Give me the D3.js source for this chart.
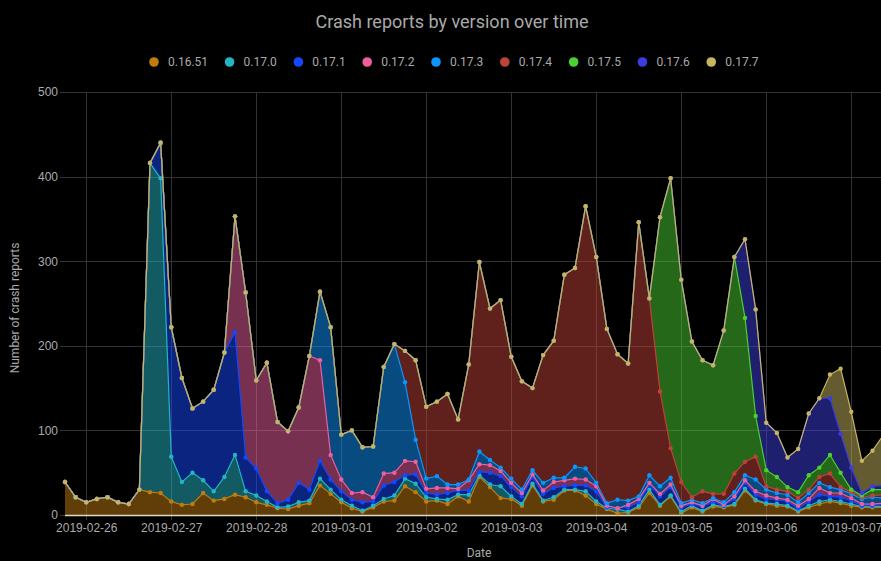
<!DOCTYPE html>
<html>
<head>
  <meta charset="utf-8">
  <title>Crash reports by version over time</title>
  <script src="https://cdn.jsdelivr.net/npm/d3@7"></script>
  <style>
body { margin: 0; background: #000; }
svg { display: block; background: #000; font-family: Roboto, "Helvetica Neue", Arial, sans-serif; }
.grid line { stroke: #333; stroke-width: 1; }
.axis text { fill: #aaa; font-size: 12px; }
.axis path, .axis line { display: none; }
.label { fill: #aaa; font-size: 12px; }
  </style>
</head>
<body>
<svg width="881" height="561"></svg>
<script>

// versions, bottom of the stack first
var versions = ["0.16.51", "0.17.0", "0.17.1", "0.17.2", "0.17.3", "0.17.4", "0.17.5", "0.17.6", "0.17.7"];
var colors = ["#c27c0e", "#23b5c4", "#1447ff", "#ee5fa0", "#0d95ff", "#bf4239", "#4bd033", "#3d3ddf", "#c8b55f"];

// one sample every 3 hours
var startTime = "2019-02-25T18:00:00Z";
var stepHours = 3;

var r_0_16_51 = [39,21,15,19,21,15,13,30, 27,26,16,12,13,26,17,19, 24,21,15,12,8,7,11,14, 35,25,15,8,4,9,16,17,
  34,27,16,17,13,22,16,45, 33,20,19,11,35,16,18,29, 29,23,13,7,2,3,9,26, 11,22,2,9,4,10,9,12, 29,17,13,11,10,4,9,13, 16,14,11,9,9,9];
var r_0_17_0 = [0,0,0,0,0,0,0,0, 389,372,53,27,37,15,11,26, 47,7,8,4,1,3,4,3, 8,5,3,3,1,2,3,6,
  9,10,5,2,5,2,8,2, 3,14,3,2,2,1,3,1, 1,5,3,1,5,1,2,4, 1,1,2,2,1,2,1,1, 2,1,1,2,1,1,2,3, 2,2,2,1,1,1];
var r_0_17_1 = [0,0,0,0,0,0,0,0, 0,42,153,123,76,93,120,147, 145,40,32,12,5,8,23,13, 21,12,10,7,10,5,16,16,
  4,11,5,5,8,5,5,4, 14,12,11,9,8,8,11,4, 5,7,12,1,1,5,4,6, 10,10,5,2,5,4,1,6, 7,6,5,5,5,3,5,8, 4,5,4,1,1,2];
var r_0_17_2 = [0,0,0,0,0,0,0,0, 0,0,0,0,0,0,0,0, 137,195,104,152,96,81,89,158, 119,29,14,8,12,5,14,11,
  17,15,5,8,6,2,12,9, 9,6,5,4,3,4,7,7, 8,7,6,2,0,3,4,2, 3,3,2,2,1,3,1,3, 3,4,4,2,2,3,3,8, 4,5,3,2,2,2];
var r_0_17_3 = [0,0,0,0,0,0,0,0, 0,0,0,0,0,0,0,0, 0,0,0,0,0,0,0,0, 81,151,53,74,53,60,126,152,
  93,26,12,14,4,5,1,15, 6,4,5,4,5,9,5,3, 14,13,4,3,10,5,3,9, 9,8,3,3,3,1,3,5, 6,14,7,6,6,4,7,6, 7,4,5,6,8,6];
var r_0_17_4 = [0,0,0,0,0,0,0,0, 0,0,0,0,0,0,0,0, 0,0,0,0,0,0,0,0, 0,0,0,0,0,0,0,0,
  37,94,85,88,107,77,136,224, 179,198,144,128,97,151,162,240, 235,310,267,206,172,162,324,209, 112,35,25,3,14,5,10,22, 16,27,4,4,4,5,4,7, 16,3,2,2,2,4];
var r_0_17_5 = [0,0,0,0,0,0,0,0, 0,0,0,0,0,0,0,0, 0,0,0,0,0,0,0,0, 0,0,0,0,0,0,0,0,
  0,0,0,0,0,0,0,0, 0,0,0,0,0,0,0,0, 0,0,0,0,0,0,0,0, 206,319,239,184,155,152,193,256, 170,48,19,15,5,7,17,11, 22,17,3,2,7,6];
var r_0_17_6 = [0,0,0,0,0,0,0,0, 0,0,0,0,0,0,0,0, 0,0,0,0,0,0,0,0, 0,0,0,0,0,0,0,0,
  0,0,0,0,0,0,0,0, 0,0,0,0,0,0,0,0, 0,0,0,0,0,0,0,0, 0,0,0,0,0,0,0,0, 93,126,56,52,35,51,73,82, 67,46,26,3,4,5];
var r_0_17_7 = [0,0,0,0,0,0,0,0, 0,0,0,0,0,0,0,0, 0,0,0,0,0,0,0,0, 0,0,0,0,0,0,0,0,
  0,0,0,0,0,0,0,0, 0,0,0,0,0,0,0,0, 0,0,0,0,0,0,0,0, 0,0,0,0,0,0,0,0, 0,0,0,0,0,0,0,0, 28,77,66,38,42,59];

var yTicks = [0, 100, 200, 300, 400, 500];

var series = [r_0_16_51, r_0_17_0, r_0_17_1, r_0_17_2, r_0_17_3, r_0_17_4, r_0_17_5, r_0_17_6, r_0_17_7];

var svg = d3.select("svg"),
    width = +svg.attr("width"),
    plotLeft = 65,
    plotTop = 92,
    plotBottom = 515,
    pxPerStep = 10.625;

var t0 = new Date(startTime);
var times = d3.range(r_0_16_51.length).map(function(i) { return d3.utcHour.offset(t0, i * stepHours); });

var rows = times.map(function(t, i) {
  var row = { time: t };
  versions.forEach(function(v, k) { row[v] = series[k][i]; });
  return row;
});

var x = d3.scaleUtc()
    .domain([times[0], times[times.length - 1]])
    .range([plotLeft, plotLeft + (times.length - 1) * pxPerStep]);

var y = d3.scaleLinear()
    .domain([0, 500])
    .range([plotBottom, plotTop]);

var layers = d3.stack().keys(versions)(rows);

// grid
var grid = svg.append("g").attr("class", "grid");
grid.selectAll(".h").data(yTicks).enter().append("line")
    .attr("x1", plotLeft - 5).attr("x2", width)
    .attr("y1", function(d) { return Math.round(y(d)) + 0.5; })
    .attr("y2", function(d) { return Math.round(y(d)) + 0.5; });
grid.selectAll(".v").data(x.ticks(d3.utcDay.every(1))).enter().append("line")
    .attr("x1", function(d) { return Math.round(x(d)) + 0.5; })
    .attr("x2", function(d) { return Math.round(x(d)) + 0.5; })
    .attr("y1", plotTop).attr("y2", plotBottom + 5);

// axes (labels only)
svg.append("g")
    .attr("class", "axis")
    .attr("transform", "translate(" + (plotLeft - 1) + ",0)")
    .call(d3.axisLeft(y).tickValues(yTicks).tickSize(0).tickPadding(6));

svg.append("g")
    .attr("class", "axis")
    .attr("transform", "translate(0," + plotBottom + ")")
    .call(d3.axisBottom(x).ticks(d3.utcDay.every(1)).tickFormat(d3.utcFormat("%Y-%m-%d")).tickSize(0).tickPadding(8));

var area = d3.area()
    .x(function(d) { return x(d.data.time); })
    .y0(function(d) { return y(d[0]); })
    .y1(function(d) { return y(d[1]); });

var line = d3.line()
    .x(function(d) { return x(d.data.time); })
    .y(function(d) { return y(d[1]); });

svg.append("g").selectAll("path")
    .data(layers)
  .enter().append("path")
    .attr("d", area)
    .attr("fill", function(d, i) { return colors[i]; })
    .attr("fill-opacity", 0.5);

// zero line
svg.append("line")
    .attr("x1", plotLeft).attr("x2", width)
    .attr("y1", plotBottom + 0.5).attr("y2", plotBottom + 0.5)
    .attr("stroke", "#ddd8c4").attr("stroke-width", 1.5);

var marks = svg.append("g").selectAll("g")
    .data(layers)
  .enter().append("g");

marks.append("path")
    .attr("d", line)
    .attr("fill", "none")
    .attr("stroke", function(d, i) { return colors[i]; })
    .attr("stroke-width", 1.2);

marks.each(function(layer, i) {
  d3.select(this).selectAll("circle")
      .data(layer)
    .enter().append("circle")
      .attr("cx", function(d) { return x(d.data.time); })
      .attr("cy", function(d) { return y(d[1]); })
      .attr("r", 2.2)
      .attr("fill", colors[i]);
});

// title
svg.append("text")
    .attr("x", 452).attr("y", 28)
    .attr("text-anchor", "middle")
    .attr("fill", "#aaa")
    .style("font-size", "18px")
    .text("Crash reports by version over time");

// axis titles
svg.append("text")
    .attr("class", "label")
    .attr("x", 479).attr("y", 557)
    .attr("text-anchor", "middle")
    .text("Date");

svg.append("text")
    .attr("class", "label")
    .attr("transform", "translate(19,308) rotate(-90)")
    .attr("text-anchor", "middle")
    .text("Number of crash reports");

// legend
var legend = svg.append("g");
var cx = 0;
versions.forEach(function(v, i) {
  legend.append("circle")
      .attr("cx", cx).attr("cy", 62)
      .attr("r", 4.8)
      .attr("fill", colors[i]);
  var t = legend.append("text")
      .attr("class", "label")
      .attr("x", cx + 14).attr("y", 66)
      .text(v);
  cx += 14 + t.node().getComputedTextLength() + 21.5;
});
var lb = legend.node().getBBox();
legend.attr("transform", "translate(" + (454 - (lb.x + lb.width / 2)) + ",0)");

</script>
</body>
</html>
